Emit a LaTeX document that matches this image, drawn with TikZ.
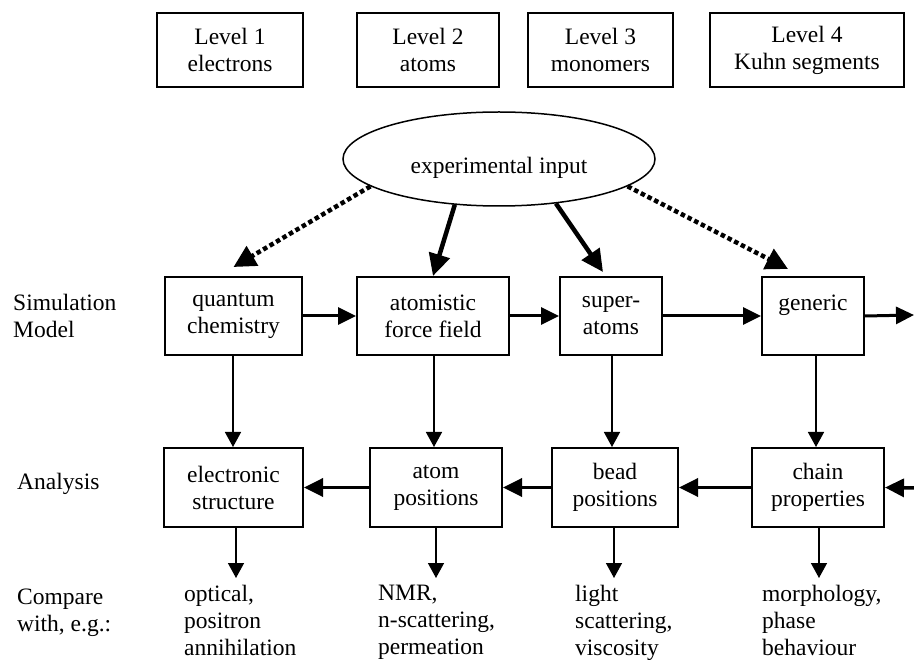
\documentclass[tikz,border=0pt]{standalone}
\usepackage{fontspec}
\setmainfont{Liberation Serif}
\usetikzlibrary{arrows.meta,shapes.geometric}
\begin{document}
\begin{tikzpicture}[x=1pt,y=-1pt,
  every node/.style={font=\fontsize{23.5}{27}\selectfont},
  box/.style={draw,line width=2pt,inner sep=0pt,align=center},
  lbl/.style={align=left,inner sep=0pt},
  thickarr/.style={line width=4.5pt,-{Triangle[width=21pt,length=22pt]}},
  dotarr/.style={line width=4.5pt,dash pattern=on 4.5pt off 3pt,-{Triangle[width=22pt,length=22pt]}},
  simarr/.style={line width=3pt,-{Triangle[width=17pt,length=18pt]}},
  anaarr/.style={line width=3.5pt,-{Triangle[width=18pt,length=19pt]}},
  thinarr/.style={line width=1.5pt,-{Triangle[width=16pt,length=15pt]}}]
\useasboundingbox (0,0) rectangle (914,660);
\fill[white] (0,0) rectangle (914,660);
% levels
\node[box,minimum width=146pt,minimum height=74pt] (l1) at (230,50) {Level 1\\electrons};
\node[box,minimum width=142pt,minimum height=74pt] (l2) at (428,50) {Level 2\\atoms};
\node[box,minimum width=145pt,minimum height=74pt] (l3) at (600.5,50) {Level 3\\monomers};
\node[box,minimum width=194pt,minimum height=74pt] (l4) at (807,50) {Level 4\\Kuhn segments};
% ellipse
\node[ellipse,draw,line width=1.5pt,minimum width=312pt,minimum height=94pt,inner sep=0pt] (ex) at (499,159) {\raisebox{-15pt}[0pt][0pt]{experimental input}};
% simulation row
\node[box,minimum width=137pt,minimum height=78pt] (qc) at (233.5,316) {quantum\\chemistry};
\node[box,minimum width=152pt,minimum height=78pt] (af) at (433,316) {atomistic\\force field};
\node[box,minimum width=102pt,minimum height=78pt] (sa) at (611,316) {super-\\atoms};
\node[box,minimum width=102pt,minimum height=78pt] (ge) at (813,316) {generic\\\mbox{}};
% analysis row
\node[box,minimum width=139pt,minimum height=79pt] (es) at (233.5,487.5) {electronic\\structure};
\node[box,minimum width=132pt,minimum height=79pt] (ap) at (436,487.5) {atom\\positions};
\node[box,minimum width=126pt,minimum height=79pt] (bp) at (615,487.5) {bead\\positions};
\node[box,minimum width=132pt,minimum height=79pt] (cp) at (818,487.5) {chain\\properties};
% left labels
\node[lbl,anchor=north west] (lsim) at (13,294) {Simulation\\Model};
\node[lbl,anchor=north west] (lana) at (17,473) {Analysis};
\node[lbl,anchor=north west] (lcmp) at (17,589) {Compare\\with, e.g.:};
% compare texts
\node[lbl,anchor=north west] (c1) at (184,585) {optical,\\positron\\annihilation};
\node[lbl,anchor=north west] (c2) at (378,585) {NMR,\\n-scattering,\\permeation};
\node[lbl,anchor=north west] (c3) at (575,585) {light\\scattering,\\viscosity};
\node[lbl,anchor=north west] (c4) at (762,585) {morphology,\\phase\\behaviour};
% coordinates
\coordinate (r1) at (914,315);
\coordinate (r2) at (914,488);
\coordinate (d1) at (236,578);
\coordinate (d2) at (436,578);
\coordinate (d3) at (614,578);
\coordinate (d4) at (819,578);
% ellipse arrows
\draw[dotarr] (ex.192) -- ([yshift=9pt]qc.north);
\draw[thickarr] (ex.226) -- (af.north);
\draw[thickarr] (ex.322) -- ([xshift=-8pt,yshift=4pt]sa.north);
\draw[dotarr] (ex.348) -- ([xshift=-25pt,yshift=7pt]ge.north);
% sim row arrows
\draw[simarr] (qc.east) -- (af.west);
\draw[simarr] (af.east) -- (sa.west);
\draw[simarr] (sa.east) -- (ge.west);
\draw[simarr] (ge.east) -- (r1);
% vertical
\draw[thinarr] ([xshift=-0.5pt]qc.south) -- ([xshift=-0.5pt]qc.south |- es.north);
\draw[thinarr] ([xshift=1pt]af.south) -- ([xshift=1pt]af.south |- ap.north);
\draw[thinarr] ([xshift=1pt]sa.south) -- ([xshift=1pt]sa.south |- bp.north);
\draw[thinarr] ([xshift=3pt]ge.south) -- ([xshift=3pt]ge.south |- cp.north);
% analysis arrows
\draw[anaarr] (r2) -- (cp.east);
\draw[anaarr] (cp.west) -- (bp.east);
\draw[anaarr] (bp.west) -- (ap.east);
\draw[anaarr] (ap.west) -- (es.east);
% down arrows
\draw[thinarr] (es.south -| d1) -- (d1);
\draw[thinarr] (ap.south -| d2) -- (d2);
\draw[thinarr] (bp.south -| d3) -- (d3);
\draw[thinarr] (cp.south -| d4) -- (d4);
\end{tikzpicture}
\end{document}
